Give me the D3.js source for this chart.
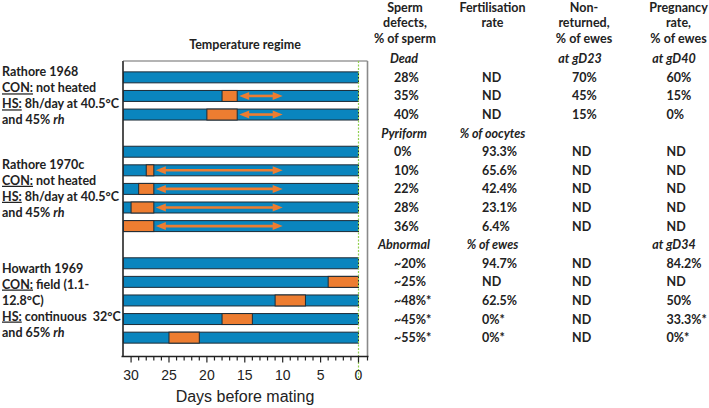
<!DOCTYPE html>
<html><head><meta charset="utf-8">
<script src="https://cdn.jsdelivr.net/npm/d3@7"></script>
<style>body{margin:0;background:#fff}svg{display:block}</style>
</head><body><svg id="c" width="709" height="408"></svg>
<script>
// ---- data ----
const slots = ["r68_con","r68_hs2","r68_hs4","gapA","r70_con","r70_1","r70_2","r70_3","r70_4","gapB","h_con","h_0","h_7","h_14","h_21"];
const hasBar = [1,1,1,0,1,1,1,1,1,0,1,1,1,1,1];
const heatStart = [null,18,20,null,null,28,29,30,31,null,null,4,11,18,25];
const heatEnd   = [null,16,16,null,null,27,27,27,27,null,null,0,7,14,21];
const arrowFrom = [null,16,16,null,null,27,27,27,27,null,null,null,null,null,null];
const arrowTo   = [null,10,10,null,null,10,10,10,10,null,null,null,null,null,null];
const barFrom = 31, barTo = 0;
const xTicks = [30,25,20,15,10,5,0];

const spermDefects = ["28%","35%","40%",null,"0%","10%","22%","28%","36%",null,"~20%","~25%","~48%*","~45%*","~55%*"];
const fertRate     = ["ND","ND","ND",null,"93.3%","65.6%","42.4%","23.1%","6.4%",null,"94.7%","ND","62.5%","0%*","0%*"];
const nonReturned  = ["70%","45%","15%",null,"ND","ND","ND","ND","ND",null,"ND","ND","ND","ND","ND"];
const pregnancy    = ["60%","15%","0%",null,"ND","ND","ND","ND","ND",null,"84.2%","ND","50%","33.3%*","0%*"];
const subHeaders = [
  {slot:-1, col:0, t:"Dead"},{slot:-1, col:2, t:"at gD23"},{slot:-1, col:3, t:"at gD40"},
  {slot:3, col:0, t:"Pyriform"},{slot:3, col:1, t:"% of oocytes"},
  {slot:9, col:0, t:"Abnormal"},{slot:9, col:1, t:"% of ewes"},{slot:9, col:3, t:"at gD34"}
];
const headers = [["Sperm","defects,","% of sperm"],["Fertilisation","rate"],["Non-","returned,","% of ewes"],["Pregnancy","rate,","% of ewes"]];
const studies = [
  {slot:0, lines:[[["Rathore 1968",""]],[["CON:","u"],[" not heated",""]],[["HS:","u"],[" 8h/day at 40.5°C",""]],[["and 45% ",""],["rh","i"]]]},
  {slot:4.97, lines:[[["Rathore 1970c",""]],[["CON:","u"],[" not heated",""]],[["HS:","u"],[" 8h/day at 40.5°C",""]],[["and 45% ",""],["rh","i"]]]},
  {slot:10.55, lines:[[["Howarth 1969",""]],[["CON:","u"],[" field (1.1-",""]],[["12.8°C)",""]],[["HS:","u"],[" continuous  32°C",""]],[["and 65% ",""],["rh","i"]]]}
];

// ---- layout ----
const svg = d3.select("#c");
const F = "Lato, 'Open Sans', sans-serif";
const x = d3.scaleLinear().domain([31,0]).range([123.5,358.5]);
const y = d3.scaleBand().domain(d3.range(slots.length)).range([64.25,350.75]).padding(0.41);
const step = y.step();
const cy = i => y(0) + y.bandwidth()/2 + i*step;
const plotTop = 61, plotBottom = 356.5, plotLeft = 123, plotRight = 367.5;
const blue = "#0A85BE", orange = "#ED7D31", edge = "#1d2b36";

// frame
svg.append("line").attr("x1",plotLeft).attr("x2",plotRight).attr("y1",plotTop).attr("y2",plotTop).attr("stroke","#6b6b6b").attr("stroke-width",1.2);
svg.append("line").attr("x1",plotRight).attr("x2",plotRight).attr("y1",plotTop).attr("y2",plotBottom).attr("stroke","#8a8a8a").attr("stroke-width",1.6);
svg.append("line").attr("x1",plotLeft).attr("x2",plotLeft).attr("y1",plotTop).attr("y2",plotBottom).attr("stroke","#505050").attr("stroke-width",2);

// bars
const idx = d3.range(slots.length);
const g = svg.append("g");
g.selectAll("rect.base").data(idx.filter(i=>hasBar[i])).join("rect")
  .attr("x",x(barFrom)).attr("width",x(barTo)-x(barFrom))
  .attr("y",i=>y(i)).attr("height",y.bandwidth())
  .attr("fill",blue).attr("stroke",edge).attr("stroke-width",1);
g.selectAll("rect.heat").data(idx.filter(i=>heatStart[i]!=null)).join("rect")
  .attr("x",i=>x(heatStart[i])).attr("width",i=>x(heatEnd[i])-x(heatStart[i]))
  .attr("y",i=>y(i)).attr("height",y.bandwidth())
  .attr("fill",orange).attr("stroke",edge).attr("stroke-width",1);

// arrows
const ah = 10, aw = 4;
idx.filter(i=>arrowFrom[i]!=null).forEach(i=>{
  const x1 = x(arrowFrom[i]) + 2, x2 = x(arrowTo[i]), yy = cy(i);
  svg.append("line").attr("x1",x1+ah-1).attr("x2",x2-ah+1).attr("y1",yy).attr("y2",yy)
    .attr("stroke",orange).attr("stroke-width",2.6);
  svg.append("path").attr("d",`M${x1},${yy}L${x1+ah},${yy-aw}L${x1+ah},${yy+aw}Z`).attr("fill",orange);
  svg.append("path").attr("d",`M${x2},${yy}L${x2-ah},${yy-aw}L${x2-ah},${yy+aw}Z`).attr("fill",orange);
});

// green zero line
svg.append("line").attr("x1",x(0)).attr("x2",x(0)).attr("y1",plotTop).attr("y2",378)
  .attr("stroke","#92D050").attr("stroke-width",1.2).attr("stroke-dasharray","2,1.5");

// x axis
const ax = svg.append("g").attr("transform",`translate(0,${plotBottom})`);
ax.append("line").attr("x1",121.5).attr("x2",plotRight+1).attr("stroke","#222").attr("stroke-width",1.5);
ax.selectAll("line.minor").data(d3.range(0,31)).join("line")
  .attr("x1",d=>x(d)).attr("x2",d=>x(d)).attr("y1",0).attr("y2",d=>d%5===0?6:4)
  .attr("stroke","#222").attr("stroke-width",1.2);
ax.append("line").attr("x1",plotRight).attr("x2",plotRight).attr("y1",0).attr("y2",4).attr("stroke","#222").attr("stroke-width",1.2);
ax.selectAll("text").data(xTicks).join("text")
  .attr("x",d=>x(d)).attr("y",23.5).attr("text-anchor","middle")
  .attr("font-family","'Liberation Sans', Arial, sans-serif").attr("font-size",14).attr("fill","#222").text(d=>d);
svg.append("text").attr("x",245).attr("y",402).attr("text-anchor","middle")
  .attr("font-family","'Liberation Sans', Arial, sans-serif").attr("font-size",16).attr("fill","#222").text("Days before mating");

// title
svg.append("text").attr("x",245).attr("y",49).attr("text-anchor","middle")
  .attr("font-family",F).attr("font-weight","bold").attr("font-size",12.5).attr("fill","#222").text("Temperature regime");

// left study labels
studies.forEach(s=>{
  s.lines.forEach((ln,k)=>{
    const t = svg.append("text").attr("x",2).attr("y",cy(s.slot)-1+k*16)
      .attr("font-family",F).attr("font-weight","bold").attr("font-size",12.5).attr("fill","#222")
      .attr("xml:space","preserve");
    ln.forEach(([str,st])=>{
      const sp = t.append("tspan").text(str);
      if(st==="u") sp.attr("text-decoration","underline");
      if(st==="i") sp.attr("font-style","italic");
    });
  });
});

// table
const colLeft = [394,482,572,666.5];
const colCenter = [405,492.5,584,678.5];
const cols = [spermDefects,fertRate,nonReturned,pregnancy];
const tf = (sel)=>sel.attr("font-family",F).attr("font-weight","bold").attr("font-size",12.5).attr("fill","#222");
headers.forEach((h,c)=>{
  h.forEach((line,k)=>{
    tf(svg.append("text")).attr("x",colCenter[c]).attr("y",11.5+k*15.5).attr("text-anchor","middle").text(line);
  });
});
subHeaders.forEach(s=>{
  const cx = [404,492.5,580,674][s.col];
  tf(svg.append("text")).attr("x",cx).attr("y",cy(s.slot)+4.5).attr("text-anchor","middle")
    .attr("font-style","italic").text(s.t);
});
cols.forEach((arr,c)=>{
  arr.forEach((v,i)=>{
    if(v==null) return;
    tf(svg.append("text")).attr("x",colLeft[c]).attr("y",cy(i)+4.5).text(v);
  });
});
</script></body></html>
